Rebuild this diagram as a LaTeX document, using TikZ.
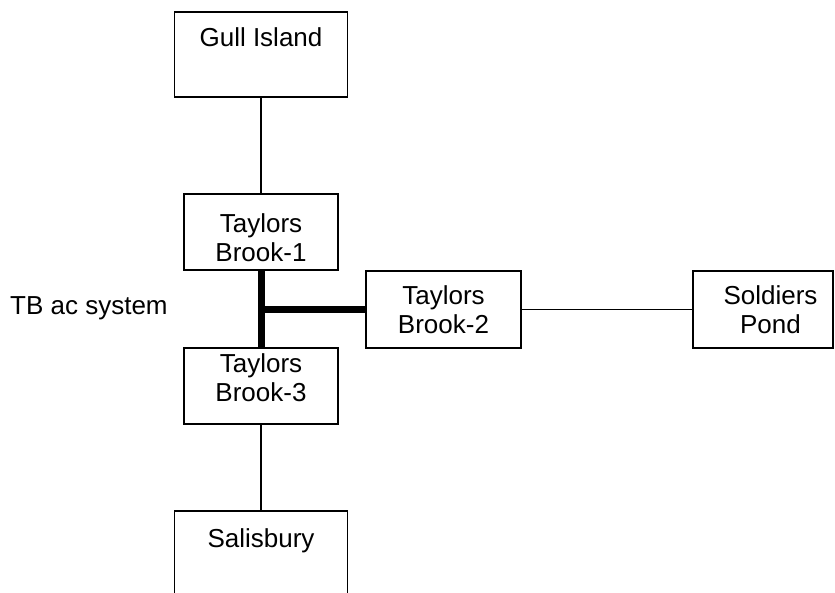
\documentclass[tikz,border=0pt]{standalone}
\usepackage{fontspec}
\setmainfont{Liberation Sans}
\begin{document}
\begin{tikzpicture}[x=1pt,y=-1pt,
  box/.style={draw=black, line width=1.8pt, rectangle, inner sep=0pt},
  lbl/.style={inner sep=0pt, align=center, font=\fontsize{26}{29}\selectfont},
  thin/.style={line width=1.3pt},
  bus/.style={line width=7pt}]
\useasboundingbox (0,0) rectangle (835,593);
\clip (0,0) rectangle (835,593);
% boxes
\node[box, minimum width=173pt, minimum height=85pt] (gull) at (261,54.5) {};
\node[box, minimum width=154pt, minimum height=76pt] (tb1) at (261,232) {};
\node[box, minimum width=154pt, minimum height=76pt] (tb3) at (261,386) {};
\node[box, minimum width=155pt, minimum height=77pt] (tb2) at (443.5,309.5) {};
\node[box, minimum width=140pt, minimum height=77pt] (sp) at (763,309.5) {};
\node[box, minimum width=173pt, minimum height=110pt] (sal) at (261,566) {};
% labels
\node[lbl, anchor=base] (gullT) at (261,47) {Gull Island};
\node[lbl] (tb1T) at (261,237.6) {Taylors\\Brook-1};
\node[lbl] (tb3T) at (261,377.6) {Taylors\\Brook-3};
\node[lbl] (tb2T) at (443.5,309.6) {Taylors\\Brook-2};
\node[lbl] (spT) at (770.5,309.6) {Soldiers\\Pond};
\node[lbl, anchor=base] (salT) at (261,547) {Salisbury};
\node[lbl, anchor=base west] (sysT) at (10,315) {TB ac system};
% connectors
\coordinate (j) at (tb1.south |- tb2.west);
\draw[thin] (gull.south) -- (tb1.north);
\draw[bus] (tb1.south) -- (tb3.north);
\draw[bus] (j) -- (tb2.west);
\draw[thin] (tb2.east) -- (sp.west);
\draw[thin] (tb3.south) -- (sal.north);
\end{tikzpicture}
\end{document}
